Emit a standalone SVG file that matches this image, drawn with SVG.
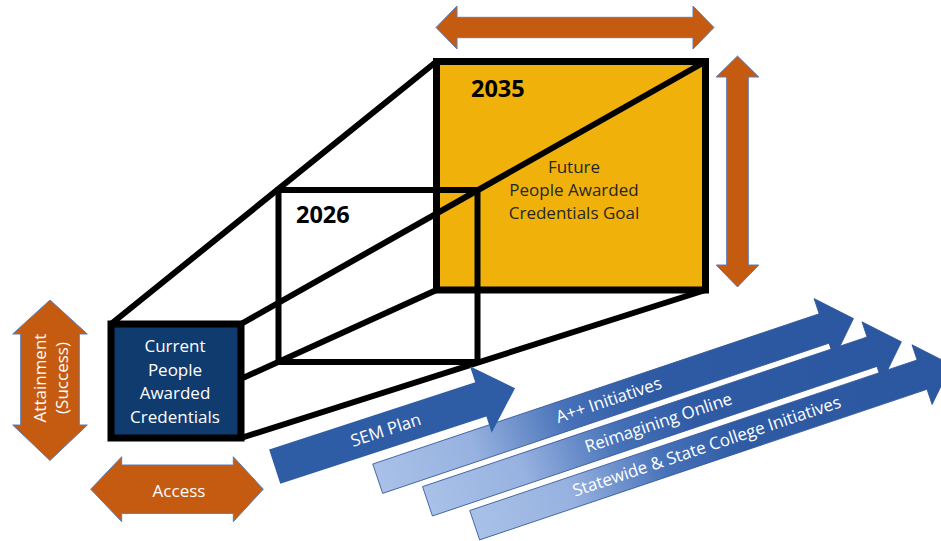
<svg xmlns="http://www.w3.org/2000/svg" width="941" height="541" viewBox="0 0 941 541">
  <style>
    .frame { fill: none; stroke: #000; stroke-width: 6; stroke-linejoin: miter; }
    .edge { stroke: #000; stroke-width: 6; stroke-linecap: round; }
    .orange { fill: #C55A11; stroke: #5B7DB8; stroke-width: 1; }
    .lbl { font-family: "Open Sans", "Liberation Sans", sans-serif; font-size: 17px; text-anchor: middle; }
    .white { fill: #FFFFFF; }
    .dark { fill: #262626; }
    .year { font-family: "Open Sans", "Liberation Sans", sans-serif; font-size: 23.5px; font-weight: bold; fill: #000; }
    .sem { fill: #2F5DA5; }
    .flow { fill: url(#flowFill); stroke: #34589A; stroke-width: 0.8; }
  </style>
  <defs>
    <linearGradient id="flowFill" gradientUnits="userSpaceOnUse" x1="0" y1="0" x2="502" y2="0">
      <stop offset="0" stop-color="#A9C1E8"/>
      <stop offset="0.2" stop-color="#97B2E0"/>
      <stop offset="0.4" stop-color="#4671B8"/>
      <stop offset="0.56" stop-color="#2F5BA5"/>
      <stop offset="1" stop-color="#2B56A0"/>
    </linearGradient>
  </defs>

  <rect width="941" height="541" fill="#FFFFFF"/>

  <!-- far face: 2035 goal -->
  <g id="goal-2035">
    <rect x="436.5" y="61.5" width="269" height="228.5" fill="#F0B20A" stroke="#000" stroke-width="7"/>
    <text class="year" x="471" y="97">2035</text>
    <text class="lbl dark" x="574" y="173">Future</text>
    <text class="lbl dark" x="574" y="196">People Awarded</text>
    <text class="lbl dark" x="574" y="219">Credentials Goal</text>
  </g>

  <!-- intermediate face: 2026 -->
  <g id="milestone-2026">
    <rect class="frame" x="278.5" y="190" width="199" height="172"/>
    <text class="year" x="296" y="223">2026</text>
  </g>

  <!-- perspective edges joining near and far faces -->
  <g id="connectors">
    <line class="edge" x1="111" y1="324" x2="436.5" y2="61.5"/>
    <line class="edge" x1="241" y1="324" x2="705.5" y2="61.5"/>
    <line class="edge" x1="111" y1="438" x2="436.5" y2="290"/>
    <line class="edge" x1="241" y1="438" x2="705.5" y2="290"/>
  </g>

  <!-- near face: current credentials -->
  <g id="current">
    <rect x="111" y="324" width="130" height="114" fill="#0F3B6E" stroke="#000" stroke-width="7"/>
    <text class="lbl white" x="175" y="352">Current</text>
    <text class="lbl white" x="175" y="375.5">People</text>
    <text class="lbl white" x="175" y="399">Awarded</text>
    <text class="lbl white" x="175" y="422.5">Credentials</text>
  </g>

  <!-- dimension arrows -->
  <g id="width-arrow">
    <path class="orange" d="M436,27.5 L457,6 L457,17.3 L693,17.3 L693,6 L714,27.5 L693,49 L693,37.7 L457,37.7 L457,49 Z"/>
  </g>
  <g id="height-arrow">
    <path class="orange" d="M737.5,56 L758.8,77 L748.3,77 L748.3,265 L758.8,265 L737.5,287 L716.2,265 L726.7,265 L726.7,77 L716.2,77 Z"/>
  </g>
  <g id="attainment">
    <path class="orange" d="M50,300 L87.3,334 L79.3,334 L79.3,425 L87.3,425 L50,460.5 L12.7,425 L20.7,425 L20.7,334 L12.7,334 Z"/>
    <text class="lbl white" transform="translate(46,378) rotate(-90)">Attainment</text>
    <text class="lbl white" transform="translate(68,378) rotate(-90)">(Success)</text>
  </g>
  <g id="access">
    <path class="orange" d="M90.7,489.2 L121.7,456.7 L121.7,465 L233.3,465 L233.3,456.7 L263.3,489.2 L233.3,521.7 L233.3,513.4 L121.7,513.4 L121.7,521.7 Z"/>
    <text class="lbl white" x="179" y="497">Access</text>
  </g>

  <!-- initiative arrows -->
  <g id="aplus" transform="translate(377.7,478.7) rotate(-18.6)">
    <path class="flow" d="M0,-15.5 L471,-15.5 L471,-31.5 L502,0 L471,31.5 L471,15.5 L0,15.5 Z"/>
    <text class="lbl white" x="244" y="5">A++ Initiatives</text>
  </g>
  <g id="online" transform="translate(427.5,501.3) rotate(-18.6)">
    <path class="flow" d="M0,-15.5 L469,-15.5 L469,-31.5 L500,0 L469,31.5 L469,15.5 L0,15.5 Z"/>
    <text class="lbl white" x="244" y="5">Reimagining Online</text>
  </g>
  <g id="statewide" transform="translate(474.7,525.2) rotate(-18.6)">
    <path class="flow" d="M0,-15.5 L472,-15.5 L472,-31.5 L503,0 L472,31.5 L472,15.5 L0,15.5 Z"/>
    <text class="lbl white" x="245" y="5">Statewide &amp; State College Initiatives</text>
  </g>
  <g id="sem-plan" transform="translate(274.7,466.7) rotate(-18.07)">
    <path class="sem" d="M0,-18 L216.8,-18 L216.8,-35 L252.8,0 L216.8,35 L216.8,18 L0,18 Z"/>
    <text class="lbl white" x="117" y="5.5">SEM Plan</text>
  </g>
</svg>
